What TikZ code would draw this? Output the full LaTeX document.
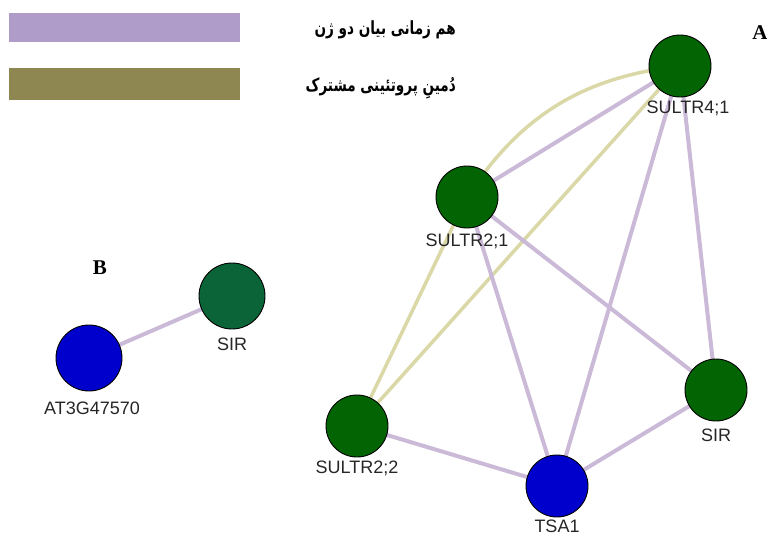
\documentclass[tikz,border=0pt]{standalone}
\usepackage{fontspec}
\usepackage{graphicx}
\setmainfont{Liberation Sans}
\newfontfamily\serifbold{Liberation Serif}
\newfontfamily\arabicfont[Script=Arabic]{DejaVu Sans}
\TeXXeTstate=1
\usetikzlibrary{backgrounds}
\definecolor{legpurple}{HTML}{B09CC8}
\definecolor{legolive}{HTML}{8F8752}
\definecolor{edgepurple}{HTML}{CBB9D8}
\definecolor{edgebeige}{HTML}{DAD8A6}
\definecolor{nodegreen}{HTML}{036403}
\definecolor{nodeteal}{HTML}{0A6438}
\definecolor{nodeblue}{HTML}{0000CC}
\tikzset{
  gnode/.style={circle, draw=black, line width=0.9pt, fill=nodegreen, minimum size=62pt, inner sep=0pt},
  bnode/.style={circle, draw=black, line width=0.9pt, fill=nodeblue, minimum size=62pt, inner sep=0pt},
  lbl/.style={font=\fontsize{18}{20}\selectfont, text=black!85, inner sep=0pt},
  pedge/.style={draw=edgepurple, line width=4pt},
  yedge/.style={draw=edgebeige, line width=3.5pt},
  legbar/.style={minimum width=231pt, minimum height=29pt, inner sep=0pt},
  legtext/.style={font=\arabicfont\bfseries\fontsize{14}{16}\selectfont, inner sep=0pt, anchor=east},
  panel/.style={font=\serifbold\bfseries\fontsize{21}{23}\selectfont, inner sep=0pt}
}
\begin{document}
\begin{tikzpicture}[x=1pt,y=-1pt]
\useasboundingbox (0,0) rectangle (767,535);
% legend
\node[legbar, fill=legpurple] (leg1) at (124.5,27.5) {};
\node[legbar, fill=legolive, minimum height=32pt] (leg2) at (124.5,84) {};
\node[legtext] (legt1) at (456,30) {\scalebox{0.97}[1.3]{\beginR هم زمانی بیان دو ژن\endR}};
\node[legtext] (legt2) at (456,88) {\scalebox{0.97}[1.3]{\beginR دُمینِ پروتئینی مشترک\endR}};
\node[panel] (pa) at (760,33) {A};
\node[panel] (pb) at (100,268) {B};
% panel A nodes
\node[gnode] (s41) at (680,66) {};
\node[gnode] (s21) at (467,197) {};
\node[gnode] (s22) at (357,426) {};
\node[bnode] (tsa) at (557,486) {};
\node[gnode] (sir) at (716,390) {};
\node[lbl] (l41) at (688,108) {SULTR4;1};
\node[lbl] (l21) at (467,241) {SULTR2;1};
\node[lbl] (l22) at (357,468) {SULTR2;2};
\node[lbl] (ltsa) at (557,526) {TSA1};
\node[lbl] (lsir) at (716,435) {SIR};
% panel B nodes
\node[gnode, fill=nodeteal, minimum size=66pt] (bsir) at (232,296) {};
\node[bnode, minimum size=66pt] (bat) at (89,358) {};
\node[lbl] (lbsir) at (232,344) {SIR};
\node[lbl] (lbat) at (92,408) {AT3G47570};
\begin{pgfonlayer}{background}
  \draw[yedge] (s21.center) to[bend left=25] (s41.center);
  \draw[yedge] (s41.center) -- (s22.center);
  \draw[yedge] (s21.center) -- (s22.center);
  \draw[pedge] (s41.center) -- (s21.center);
  \draw[pedge] (s41.center) -- (tsa.center);
  \draw[pedge] (s41.center) -- (sir.center);
  \draw[pedge] (s21.center) -- (tsa.center);
  \draw[pedge] (s21.center) -- (sir.center);
  \draw[pedge] (s22.center) -- (tsa.center);
  \draw[pedge] (tsa.center) -- (sir.center);
  \draw[pedge] (bat.center) -- (bsir.center);
\end{pgfonlayer}
\end{tikzpicture}
\end{document}
